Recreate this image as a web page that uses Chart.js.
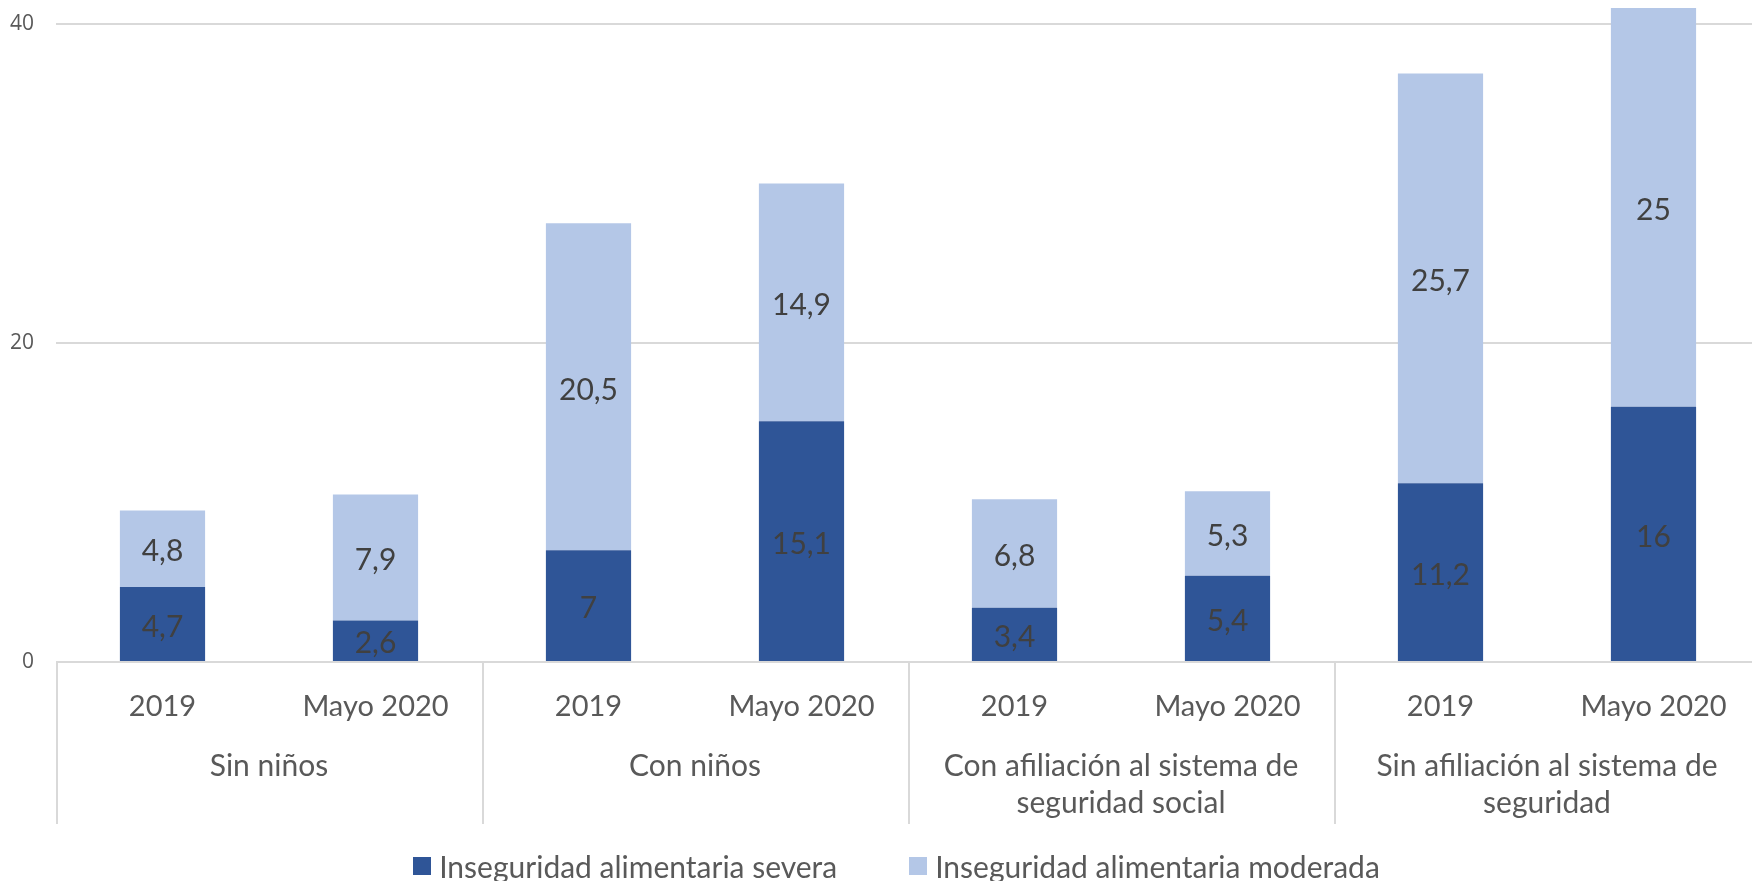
<!DOCTYPE html>
<html>
<head>
<meta charset="utf-8">
<script src="https://cdn.jsdelivr.net/npm/chart.js@4"></script>
<style>
  html, body { margin: 0; padding: 0; background: #fff; overflow: hidden; }
  #wrap { width: 1752px; height: 881px; position: relative; overflow: hidden; }
  /* the plot area runs a few px past the right edge, like the original */
  #plot { width: 1760px; height: 881px; position: relative; }
  #legend {
    position: absolute; left: 0; width: 1793px; top: 848px; height: 36px;
    display: flex; justify-content: center; align-items: center; gap: 72px;
    font: 30px Lato, sans-serif; color: #595959;
  }
  #legend span.item { display: flex; align-items: center; white-space: nowrap; }
  #legend i { display: inline-block; width: 18px; height: 18px; margin-right: 8px; }
</style>
</head>
<body>
<div id="wrap">
  <div id="plot"><canvas id="chart"></canvas></div>
  <div id="legend"></div>
</div>
<script>
// sub-categories (bottom row) and groups (second row)
const categories = ['2019', 'Mayo 2020', '2019', 'Mayo 2020', '2019', 'Mayo 2020', '2019', 'Mayo 2020'];
const groups = [
  ['Sin niños'],
  ['Con niños'],
  ['Con afiliación al sistema de', 'seguridad social'],
  ['Sin afiliación al sistema de', 'seguridad']
];
const severe = [4.7, 2.6, 7, 15.1, 3.4, 5.4, 11.2, 16];
const moderate = [4.8, 7.9, 20.5, 14.9, 6.8, 5.3, 25.7, 25];
const yMax = 41.5;
const yStep = 20;

const gridGrey = '#d9d9d9';
const textGrey = '#595959';

Chart.defaults.font.family = 'Lato';

// value labels centred in each stacked segment
const barValues = {
  id: 'barValues',
  afterDatasetsDraw(chart) {
    const ctx = chart.ctx;
    ctx.save();
    ctx.font = '30px Lato';
    ctx.fillStyle = '#404040';
    ctx.textAlign = 'center';
    ctx.textBaseline = 'middle';
    chart.data.datasets.forEach((ds, i) => {
      chart.getDatasetMeta(i).data.forEach((bar, j) => {
        const p = bar.getProps(['x', 'y', 'base'], true);
        ctx.fillText(String(ds.data[j]).replace('.', ','), p.x, (p.y + p.base) / 2 + 3);
      });
    });
    ctx.restore();
  }
};

// vertical separators between the category groups
const groupLines = {
  id: 'groupLines',
  afterDraw(chart) {
    const x = chart.scales.x;
    const area = chart.chartArea;
    const ctx = chart.ctx;
    const per = categories.length / groups.length;
    const half = (x.getPixelForValue(1) - x.getPixelForValue(0)) / 2;
    ctx.save();
    ctx.strokeStyle = gridGrey;
    ctx.lineWidth = 2;
    for (let g = 0; g < groups.length; g++) {
      const px = Math.round(x.getPixelForValue(g * per) - half) + 1;
      ctx.beginPath();
      ctx.moveTo(px, area.bottom);
      ctx.lineTo(px, area.bottom + 162);
      ctx.stroke();
    }
    ctx.restore();
  }
};

// html legend under the plot
const htmlLegend = {
  id: 'htmlLegend',
  afterUpdate(chart) {
    const box = document.getElementById('legend');
    box.innerHTML = '';
    chart.data.datasets.forEach((ds) => {
      const item = document.createElement('span');
      item.className = 'item';
      const sw = document.createElement('i');
      sw.style.background = ds.backgroundColor;
      item.appendChild(sw);
      item.appendChild(document.createTextNode(ds.label));
      box.appendChild(item);
    });
  }
};

const noPad = (s) => {
  s.paddingTop = 0;
  s.paddingBottom = 0;
  s.paddingLeft = 0;
  s.paddingRight = 0;
};

new Chart(document.getElementById('chart'), {
  type: 'bar',
  data: {
    labels: categories,
    datasets: [
      {
        label: 'Inseguridad alimentaria severa',
        data: severe,
        backgroundColor: '#2f5597',
        categoryPercentage: 1,
        barPercentage: 0.4
      },
      {
        label: 'Inseguridad alimentaria moderada',
        data: moderate,
        backgroundColor: '#b4c7e7',
        categoryPercentage: 1,
        barPercentage: 0.4
      }
    ]
  },
  options: {
    responsive: true,
    maintainAspectRatio: false,
    animation: false,
    layout: { padding: { top: 0, right: 0, bottom: 39, left: 0 } },
    plugins: {
      tooltip: { enabled: false },
      legend: { display: false }
    },
    scales: {
      x: {
        stacked: true,
        grid: { display: false },
        border: { display: false },
        ticks: { color: textGrey, font: { size: 29 }, padding: 19, maxRotation: 0, autoSkip: false },
        afterFit: (s) => { s.height = 64; noPad(s); }
      },
      x2: {
        type: 'category',
        position: 'bottom',
        labels: groups,
        offset: true,
        grid: { display: false },
        border: { display: false },
        ticks: { color: textGrey, font: { size: 30, lineHeight: 1.233 }, padding: 14, maxRotation: 0, autoSkip: false },
        afterFit: (s) => { s.height = 116; noPad(s); }
      },
      y: {
        stacked: true,
        min: 0,
        max: yMax,
        border: { display: false },
        grid: { color: gridGrey, lineWidth: 2, drawTicks: false },
        ticks: {
          stepSize: yStep,
          includeBounds: false,
          color: textGrey,
          font: { family: 'Open Sans', size: 21 },
          padding: 22
        },
        afterFit: (s) => { s.width = 56; noPad(s); }
      }
    }
  },
  plugins: [barValues, groupLines, htmlLegend]
});
</script>
</body>
</html>
